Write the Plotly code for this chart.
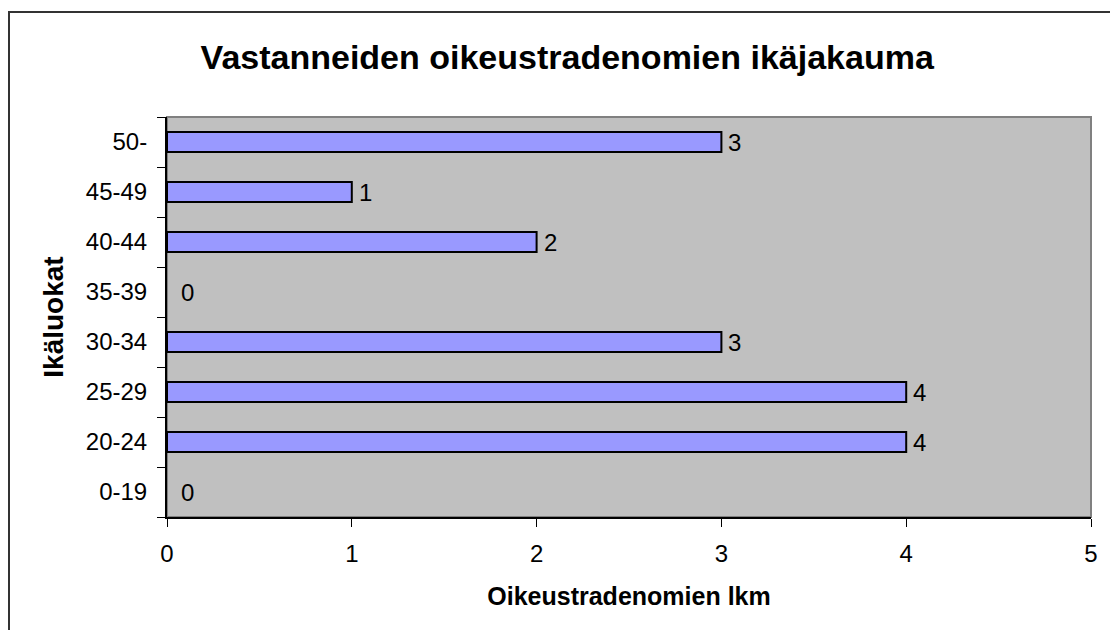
import plotly.graph_objects as go

categories = ["0-19", "20-24", "25-29", "30-34", "35-39", "40-44", "45-49", "50-"]
counts = [0, 4, 4, 3, 0, 2, 1, 3]
x_ticks = [0, 1, 2, 3, 4, 5]

FONT = "Liberation Sans, Arial, sans-serif"

fig = go.Figure()
fig.add_trace(go.Bar(
    y=categories, x=counts, orientation="h", width=0.4,
    marker=dict(color="#9999FF",
                line=dict(color="black", width=[2 if v > 0 else 0 for v in counts])),
    hoverinfo="skip",
))

for c, v in zip(categories, counts):
    fig.add_annotation(
        x=v, y=c, xref="x", yref="y", text=str(v), showarrow=False,
        xanchor="left", yanchor="middle", xshift=12 if v == 0 else 5,
        font=dict(family=FONT, size=24, color="black"),
    )

fig.update_layout(
    width=1110, height=630,
    margin=dict(l=167, r=19, t=117, b=113),
    paper_bgcolor="white", plot_bgcolor="#C0C0C0",
    showlegend=False,
    title=dict(text="<b>Vastanneiden oikeustradenomien ikäjakauma</b>",
               x=0.511, xanchor="center", y=1 - 57 / 630, yanchor="middle",
               font=dict(family=FONT, size=34, color="black")),
    font=dict(family=FONT, color="black"),
    bargap=0.6,
)
fig.update_xaxes(
    range=[0, 5], tickvals=x_ticks, showgrid=False, zeroline=False,
    showline=True, linecolor="black", linewidth=2,
    ticks="outside", ticklen=8, tickcolor="black", tickwidth=1,
    ticklabelstandoff=6,
    tickfont=dict(family=FONT, size=24),
    title=dict(text="<b>Oikeustradenomien lkm</b>", font=dict(family=FONT, size=25), standoff=22),
)
fig.update_yaxes(
    categoryorder="array", categoryarray=categories,
    showgrid=False, zeroline=False,
    showline=True, linecolor="black", linewidth=2,
    ticks="outside", ticklen=8, tickcolor="black", tickwidth=1,
    tickson="boundaries", ticklabelstandoff=13,
    tickfont=dict(family=FONT, size=24),
    title=dict(text="<b>Ikäluokat</b>", font=dict(family=FONT, size=28), standoff=14),
)

# plot area border (gray) and outer chart border
fig.add_shape(type="rect", xref="paper", yref="paper", x0=0, x1=1, y0=0, y1=1,
              line=dict(color="#808080", width=2), layer="below")
fig.add_shape(type="rect", xref="paper", yref="paper",
              x0=(9 - 167) / 924, x1=1.2, y0=-0.5, y1=(517 - 12) / 400,
              line=dict(color="#333333", width=2), fillcolor="rgba(0,0,0,0)", layer="above")

fig.write_html("out.html", config={"displayModeBar": False},
               post_script="document.body.style.margin='0';document.body.style.overflow='hidden';")
